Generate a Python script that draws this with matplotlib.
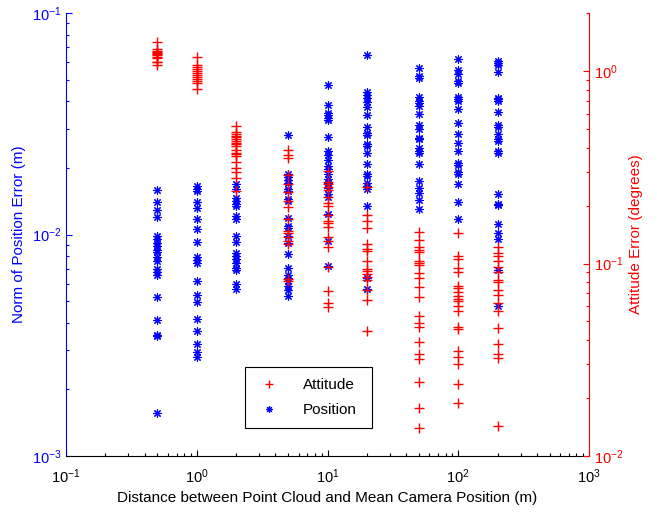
import matplotlib.pyplot as plt
from matplotlib.ticker import LogLocator, FuncFormatter
import numpy as np

plt.rcParams['font.family'] = ['Liberation Sans', 'DejaVu Sans']

# camera distance groups (m)
distances = [0.5, 1, 2, 5, 10, 20, 50, 100, 200]

# norm of position error (m), one list per distance
pos_err = [
    [0.01587, 0.0140, 0.01285, 0.01202, 0.00982, 0.00959, 0.0092, 0.00886, 0.00855,
     0.00838, 0.00795, 0.00757, 0.00702, 0.00676, 0.00655, 0.0052, 0.00412,
     0.00353, 0.00347, 0.00157],
    [0.01654, 0.0161, 0.0157, 0.0140, 0.01321, 0.0117, 0.01062, 0.00923, 0.00793,
     0.00771, 0.00745, 0.00619, 0.00531, 0.00496, 0.00417, 0.00365, 0.0032,
     0.00296, 0.0028],
    [0.01683, 0.0160, 0.01466, 0.01415, 0.0138, 0.01343, 0.0121, 0.01178, 0.00982,
     0.00923, 0.00826, 0.00804, 0.00776, 0.00745, 0.00707, 0.00695, 0.00598,
     0.00568],
    [0.02805, 0.01868, 0.01824, 0.01756, 0.01714, 0.0160, 0.0157, 0.0144, 0.01415,
     0.0119, 0.0109, 0.01072, 0.00982, 0.00917, 0.0082, 0.00707, 0.00659,
     0.00637, 0.00615, 0.00583, 0.00564, 0.0053],
    [0.0474, 0.03835, 0.03555, 0.03456, 0.0335, 0.0328, 0.02767, 0.02375, 0.02278,
     0.02174, 0.02038, 0.01983, 0.01868, 0.01774, 0.01714, 0.01627, 0.01517,
     0.01482, 0.01232, 0.00932, 0.00724],
    [0.0646, 0.0438, 0.04256, 0.04155, 0.03984, 0.03767, 0.03456, 0.03072, 0.02866,
     0.02805, 0.02553, 0.02509, 0.02344, 0.02073, 0.01868, 0.01836, 0.01701,
     0.01654, 0.0160, 0.01343, 0.00637, 0.00568],
    [0.05679, 0.05202, 0.05095, 0.04198, 0.0401, 0.03915, 0.03806, 0.03492, 0.03113,
     0.02986, 0.0274, 0.02691, 0.02468, 0.0238, 0.02344, 0.02073, 0.01743,
     0.01615, 0.01533, 0.01425, 0.01307],
    [0.0619, 0.05538, 0.05334, 0.04938, 0.04856, 0.04198, 0.04083, 0.0401, 0.03678,
     0.03201, 0.02857, 0.02582, 0.0238, 0.0211, 0.02052, 0.01914, 0.01868,
     0.01696, 0.0140, 0.0117],
    [0.06084, 0.0594, 0.05817, 0.05446, 0.04155, 0.04083, 0.0401, 0.03591, 0.03113,
     0.03058, 0.02857, 0.0271, 0.02643, 0.0238, 0.02344, 0.01517, 0.01381,
     0.01357, 0.01118, 0.01018, 0.00956, 0.00695, 0.00474],
]

# attitude error (degrees), one list per distance
att_err = [
    [1.41, 1.30, 1.27, 1.25, 1.24, 1.22, 1.21, 1.19, 1.17, 1.12, 1.11, 1.07],
    [1.19, 1.08, 1.05, 1.02, 1.00, 0.977, 0.951, 0.926, 0.904, 0.888, 0.867, 0.807],
    [0.516, 0.482, 0.472, 0.462, 0.452, 0.443, 0.434, 0.425, 0.417, 0.408, 0.388,
     0.377, 0.370, 0.362, 0.337, 0.315, 0.300, 0.278, 0.239],
    [0.390, 0.367, 0.355, 0.287, 0.258, 0.235, 0.212, 0.196, 0.171, 0.148, 0.1435,
     0.137, 0.1316, 0.126, 0.0830, 0.0813],
    [0.304, 0.2655, 0.2584, 0.2502, 0.2406, 0.2221, 0.2053, 0.2001, 0.1797, 0.1672,
     0.1619, 0.1542, 0.138, 0.1316, 0.1224, 0.0963, 0.0716, 0.062, 0.0591],
    [0.2502, 0.1797, 0.1672, 0.1531, 0.1263, 0.119, 0.1156, 0.1025, 0.0936, 0.0917,
     0.0881, 0.0853, 0.082, 0.0728, 0.0646, 0.0447],
    [0.1452, 0.1326, 0.1213, 0.118, 0.1142, 0.1025, 0.1001, 0.0986, 0.0892, 0.0836,
     0.0757, 0.0671, 0.0535, 0.0493, 0.047, 0.0391, 0.034, 0.0318, 0.0243,
     0.0178, 0.014],
    [0.1435, 0.1098, 0.1055, 0.0943, 0.0906, 0.0766, 0.0746, 0.0707, 0.068, 0.0653,
     0.0635, 0.0603, 0.0568, 0.0469, 0.0456, 0.0351, 0.0327, 0.0302, 0.0237,
     0.0189],
    [0.1223, 0.1129, 0.1098, 0.1034, 0.0954, 0.0899, 0.082, 0.0797, 0.0728, 0.0688,
     0.0627, 0.0568, 0.0465, 0.0384, 0.034, 0.0322, 0.0143],
]


def flatten(groups):
    xs, ys = [], []
    for d, vals in zip(distances, groups):
        xs += [d] * len(vals)
        ys += vals
    return xs, ys


def pow10(v, pos):
    return r'$\mathregular{10^{%d}}$' % int(round(np.log10(v)))


asterisk = (8, 2, 0)

fig = plt.figure(figsize=(6.57, 5.12), dpi=100)
ax = fig.add_axes([0.1005, 0.1094, 0.796, 0.865])
ax2 = ax.twinx()

px, py = flatten(pos_err)
pos_line, = ax.plot(px, py, linestyle='none', marker=asterisk, color='blue',
                    markersize=6, markeredgewidth=0.8, label='Position')
ax.set_xscale('log')
ax.set_yscale('log')
ax.set_xlim(0.1, 1000)
ax.set_ylim(1e-3, 1e-1)

qx, qy = flatten(att_err)
att_line, = ax2.plot(qx, qy, linestyle='none', marker='+', color='red',
                     markersize=7, markeredgewidth=1.0, label='Attitude')
ax2.set_yscale('log')
ax2.set_ylim(1e-2, 2)

for a in (ax, ax2):
    a.spines['top'].set_visible(False)
    a.xaxis.set_major_locator(LogLocator(base=10, numticks=10))
    a.xaxis.set_major_formatter(FuncFormatter(pow10))
    a.yaxis.set_major_locator(LogLocator(base=10, numticks=10))
    a.yaxis.set_major_formatter(FuncFormatter(pow10))
    a.tick_params(which='both', direction='in', labelsize=10.5)
    a.tick_params(which='major', length=4, width=0.8)
    a.tick_params(which='minor', length=2.5, width=0.8)

ax.tick_params(axis='x', which='both', pad=8)
ax.spines['left'].set_color('blue')
ax.spines['right'].set_visible(False)
ax.tick_params(axis='y', which='both', colors='blue')
ax2.spines['right'].set_color('red')
ax2.spines['left'].set_visible(False)
ax2.spines['bottom'].set_visible(False)
ax2.tick_params(axis='y', which='both', colors='red')

ax.set_xlabel('Distance between Point Cloud and Mean Camera Position (m)',
              fontsize=11, labelpad=4)
ax.set_ylabel('Norm of Position Error (m)', color='blue', fontsize=11, labelpad=4)
ax2.set_ylabel('Attitude Error (degrees)', color='red', fontsize=11, labelpad=4)

leg = ax2.legend(handles=[att_line, pos_line], loc='lower left',
                 bbox_to_anchor=(0.342, 0.063, 0.243, 0.14), mode='expand',
                 borderaxespad=0, fontsize=11, fancybox=False, framealpha=1,
                 borderpad=0.7, labelspacing=0.75, handlelength=1.8,
                 handletextpad=1.3, markerscale=0.8)
leg.get_frame().set_edgecolor('black')
leg.get_frame().set_linewidth(0.8)

fig.savefig('out.png', dpi=100)
